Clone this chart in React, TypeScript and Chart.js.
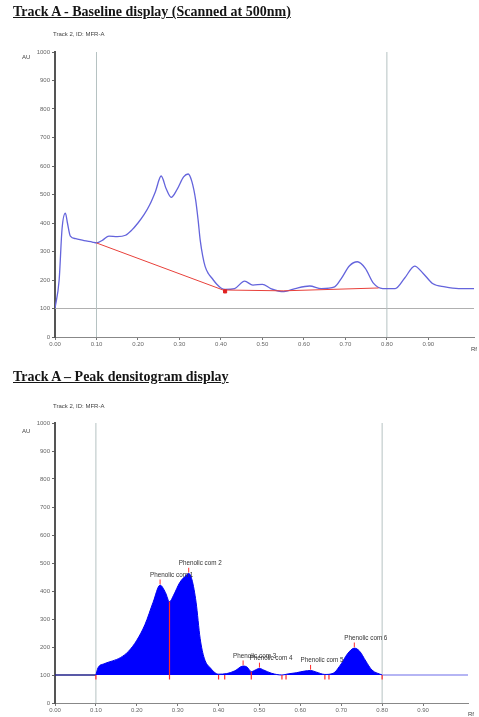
import React, { useEffect, useRef } from "react";
import { Chart, registerables } from "chart.js";

Chart.register(...registerables);

// ---------- shared axis ticks ----------
const rfTicks = [0, 0.1, 0.2, 0.3, 0.4, 0.5, 0.6, 0.7, 0.8, 0.9];
const auTicks = [0, 100, 200, 300, 400, 500, 600, 700, 800, 900, 1000];
const guideRf = [0.1, 0.8];
const baseLevel = 100;

// ---------- Track A baseline display (raw scan) ----------
const rawRf = [0.0, 0.01, 0.017, 0.025, 0.03, 0.037, 0.05, 0.07, 0.09, 0.1, 0.115, 0.13, 0.15, 0.17, 0.185, 0.2, 0.215, 0.228, 0.242, 0.256, 0.268, 0.28, 0.295, 0.31, 0.321, 0.33, 0.339, 0.345, 0.35, 0.356, 0.362, 0.37, 0.378, 0.39, 0.4, 0.41, 0.433, 0.457, 0.477, 0.5, 0.52, 0.552, 0.579, 0.614, 0.642, 0.674, 0.69, 0.71, 0.729, 0.748, 0.768, 0.79, 0.82, 0.843, 0.867, 0.887, 0.91, 0.94, 0.973, 1.01];
const rawAU = [100, 200, 380, 435, 400, 354, 345, 338, 333, 330, 340, 354, 352, 357, 375, 400, 430, 463, 510, 565, 520, 490, 520, 562, 572, 545, 481, 410, 340, 285, 247, 222, 207, 185, 172, 167, 170, 196, 182, 185, 170, 159, 170, 179, 170, 176, 205, 250, 264, 241, 188, 170, 170, 207, 249, 224, 188, 176, 170, 170];
const baselineRf = [0.1, 0.405, 0.55, 0.78];
const baselineAU = [330, 165, 162, 172];
const markerRf = [0.41];
const markerAU = [160];

// ---------- Track A peak densitogram ----------
const peakCurveRf = [0.1, 0.105, 0.12, 0.14, 0.16, 0.18, 0.2, 0.22, 0.24, 0.257, 0.27, 0.28, 0.29, 0.305, 0.32, 0.327, 0.335, 0.345, 0.355, 0.365, 0.38, 0.4, 0.42, 0.44, 0.46, 0.47, 0.48, 0.49, 0.5, 0.51, 0.53, 0.555, 0.57, 0.59, 0.61, 0.625, 0.64, 0.66, 0.68, 0.7, 0.715, 0.732, 0.745, 0.76, 0.775, 0.8];
const peakCurveAU = [100, 125, 140, 150, 162, 185, 224, 280, 360, 421, 395, 362, 385, 430, 455, 463, 440, 360, 230, 160, 125, 103, 105, 115, 132, 128, 112, 118, 124, 118, 106, 100, 104, 108, 114, 116, 110, 102, 106, 140, 175, 196, 185, 150, 118, 100];
const peakNames = ["Phenolic com 1", "Phenolic com 2", "Phenolic com 3", "Phenolic com 4", "Phenolic com 5", "Phenolic com 6"];
const peakRf = [0.257, 0.327, 0.46, 0.5, 0.625, 0.732];
const peakAU = [421, 463, 132, 124, 116, 196];
const boundaryRf = [0.1, 0.28, 0.4, 0.415, 0.48, 0.555, 0.565, 0.66, 0.67, 0.8];
const boundaryTopAU = [100, 362, 100, 100, 112, 100, 100, 100, 100, 100];

const tickFont = { family: "'Liberation Sans', Arial, sans-serif", size: 6 };

function pts(xs: number[], ys: number[]) {
  return xs.map((x, i) => ({ x, y: ys[i] }));
}

function vlines(xs: number[], lo: number[] | number, hi: number[] | number) {
  const out: { x: number; y: number | null }[] = [];
  xs.forEach((x, i) => {
    const a = Array.isArray(lo) ? lo[i] : lo;
    const b = Array.isArray(hi) ? hi[i] : hi;
    out.push({ x, y: a }, { x, y: b }, { x, y: null });
  });
  return out;
}

function scales(yWidth: number, xHeight: number, xMax: number) {
  return {
    x: {
      type: "linear" as const,
      min: 0,
      max: xMax,
      afterBuildTicks: (s: any) => {
        s.ticks = rfTicks.map((v) => ({ value: v }));
      },
      afterFit: (s: any) => {
        s.height = xHeight;
      },
      ticks: {
        font: tickFont,
        color: "#666",
        padding: 1,
        maxRotation: 0,
        autoSkip: false,
        callback: (v: any) => Number(v).toFixed(2),
      },
      grid: { drawOnChartArea: false, drawTicks: true, tickLength: 3, color: "#777" },
      border: { color: "#888", width: 1 },
    },
    y: {
      type: "linear" as const,
      min: 0,
      max: 1000,
      afterBuildTicks: (s: any) => {
        s.ticks = auTicks.map((v) => ({ value: v }));
      },
      afterFit: (s: any) => {
        s.width = yWidth;
      },
      ticks: { font: tickFont, color: "#666", padding: 2, autoSkip: false, callback: (v: any) => String(v) },
      grid: { drawOnChartArea: false, drawTicks: true, tickLength: 3, color: "#666" },
      border: { color: "#555", width: 2 },
    },
  };
}

function TopChart() {
  const ref = useRef<HTMLCanvasElement | null>(null);
  useEffect(() => {
    if (!ref.current) return;
    const guide = (rf: number) => ({
      data: [{ x: rf, y: 0 }, { x: rf, y: 1000 }],
      borderColor: "#b6c2c2",
      borderWidth: 1,
      pointRadius: 0,
      order: 5,
    });
    const chart = new Chart(ref.current, {
      type: "line",
      data: {
        datasets: [
          ...guideRf.map(guide),
          {
            data: [{ x: 0, y: baseLevel }, { x: 1.01, y: baseLevel }],
            borderColor: "#b0b0b0",
            borderWidth: 1,
            pointRadius: 0,
            order: 5,
          },
          {
            data: pts(rawRf, rawAU),
            borderColor: "#6464dc",
            borderWidth: 1.3,
            pointRadius: 0,
            cubicInterpolationMode: "monotone",
            order: 3,
          },
          {
            data: pts(baselineRf, baselineAU),
            borderColor: "#e8403a",
            borderWidth: 1,
            pointRadius: 0,
            order: 2,
          },
          {
            data: pts(markerRf, markerAU),
            showLine: false,
            pointStyle: "rect",
            pointRadius: 2.2,
            backgroundColor: "#e02020",
            borderColor: "#e02020",
            order: 1,
          },
        ] as any,
      },
      options: {
        animation: false,
        responsive: true,
        maintainAspectRatio: false,
        parsing: false as any,
        layout: { padding: { top: 52, right: 0, left: 0, bottom: 0 } },
        plugins: { legend: { display: false }, tooltip: { enabled: false } },
        scales: scales(55, 23, 1.01) as any,
      },
    });
    return () => chart.destroy();
  }, []);
  return (
    <div style={{ position: "absolute", left: 0, top: 0, width: 479, height: 360 }}>
      <canvas ref={ref} />
    </div>
  );
}

const peakLabelPlugin = {
  id: "peakLabels",
  afterDatasetsDraw(chart: any) {
    const { ctx, scales: sc } = chart;
    ctx.save();
    ctx.font = "6.3px 'Liberation Sans', Arial, sans-serif";
    ctx.fillStyle = "#333";
    ctx.textBaseline = "middle";
    ctx.textAlign = "left";
    peakNames.forEach((name, i) => {
      const px = sc.x.getPixelForValue(peakRf[i]);
      const py = sc.y.getPixelForValue(peakAU[i]);
      ctx.fillText(name, px - 10, py - 10);
    });
    ctx.restore();
  },
};

function BottomChart() {
  const ref = useRef<HTMLCanvasElement | null>(null);
  useEffect(() => {
    if (!ref.current) return;
    const guide = (rf: number) => ({
      data: [{ x: rf, y: 0 }, { x: rf, y: 1000 }],
      borderColor: "#b6c2c2",
      borderWidth: 1,
      pointRadius: 0,
      order: 6,
    });
    const chart = new Chart(ref.current, {
      type: "line",
      data: {
        datasets: [
          ...guideRf.map(guide),
          {
            data: [{ x: 0, y: baseLevel }, { x: guideRf[0], y: baseLevel }],
            borderColor: "#22228a",
            borderWidth: 1.6,
            pointRadius: 0,
            order: 4,
          },
          {
            data: [{ x: guideRf[1], y: baseLevel }, { x: 1.01, y: baseLevel }],
            borderColor: "#9c9cf0",
            borderWidth: 1.6,
            pointRadius: 0,
            order: 4,
          },
          {
            data: pts(peakCurveRf, peakCurveAU),
            borderColor: "#0000f0",
            backgroundColor: "#0000ff",
            borderWidth: 1,
            pointRadius: 0,
            cubicInterpolationMode: "monotone",
            fill: { value: baseLevel },
            order: 3,
          },
          {
            data: vlines(boundaryRf, 84, boundaryTopAU),
            borderColor: "#ff2a2a",
            borderWidth: 1.2,
            pointRadius: 0,
            spanGaps: false,
            order: 1,
          },
          {
            data: vlines(peakRf, peakAU.map((v) => v + 3), peakAU.map((v) => v + 20)),
            borderColor: "#ff2a2a",
            borderWidth: 1,
            pointRadius: 0,
            spanGaps: false,
            order: 1,
          },
        ] as any,
      },
      options: {
        animation: false,
        responsive: true,
        maintainAspectRatio: false,
        parsing: false as any,
        layout: { padding: { top: 53, right: 11, left: 0, bottom: 0 } },
        plugins: { legend: { display: false }, tooltip: { enabled: false } },
        scales: scales(55, 14, 1.01) as any,
      },
      plugins: [peakLabelPlugin],
    });
    return () => chart.destroy();
  }, []);
  return (
    <div style={{ position: "absolute", left: 0, top: 370, width: 479, height: 347 }}>
      <canvas ref={ref} />
    </div>
  );
}

const titleStyle: React.CSSProperties = {
  position: "absolute",
  left: 13,
  fontFamily: "'Liberation Serif', 'Times New Roman', serif",
  fontWeight: "bold",
  fontSize: 14,
  textDecoration: "underline",
  color: "#151515",
  lineHeight: 1,
  whiteSpace: "nowrap",
};
const smallStyle: React.CSSProperties = {
  position: "absolute",
  fontFamily: "'Liberation Sans', Arial, sans-serif",
  fontSize: 6,
  color: "#444",
  lineHeight: 1,
  whiteSpace: "nowrap",
};

export default function App() {
  return (
    <div style={{ position: "absolute", left: 0, top: 0, width: 479, height: 717, background: "#fff", overflow: "hidden" }}>
      <TopChart />
      <BottomChart />
      <div style={{ ...titleStyle, top: 5 }}>Track A - Baseline display (Scanned at 500nm)</div>
      <div style={{ ...smallStyle, left: 53, top: 31 }}>Track 2, ID: MFR-A</div>
      <div style={{ ...smallStyle, left: 22, top: 54 }}>AU</div>
      <div style={{ ...smallStyle, left: 471, top: 346 }}>Rf</div>
      <div style={{ ...titleStyle, top: 370 }}>Track A – Peak densitogram display</div>
      <div style={{ ...smallStyle, left: 53, top: 403 }}>Track 2, ID: MFR-A</div>
      <div style={{ ...smallStyle, left: 22, top: 428 }}>AU</div>
      <div style={{ ...smallStyle, left: 468, top: 711 }}>Rf</div>
    </div>
  );
}
